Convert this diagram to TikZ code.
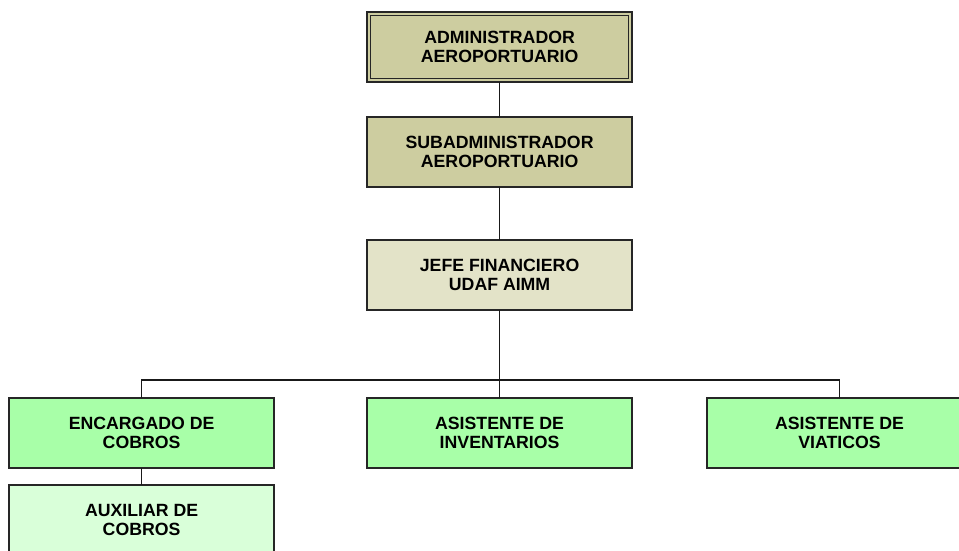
\documentclass[tikz,border=0pt]{standalone}
\usepackage{fontspec}
\setmainfont{Liberation Sans}
\usepackage{xcolor}
\usetikzlibrary{positioning}

\definecolor{tanfill}{RGB}{205,205,160}
\definecolor{paletan}{RGB}{227,227,200}
\definecolor{greenfill}{RGB}{168,255,168}
\definecolor{palegreen}{RGB}{217,255,217}

\begin{document}
\begin{tikzpicture}[
        node distance=1cm,
        post/.style={draw=black!85, line width=1.1pt, minimum width=6.625cm,
                     minimum height=1.75cm, inner sep=0pt, outer sep=0pt, align=center,
                     font=\fontsize{12.6}{13.6}\selectfont\bfseries},
        link/.style={draw=black!90, line width=1pt}
    ]
        \useasboundingbox (0,0) rectangle (23.975,-13.775);

        \node[post, fill=tanfill] (adm) at (12.49,-1.175) {ADMINISTRADOR\\AEROPORTUARIO};
        \draw[black!85, line width=0.8pt] ([shift={(0.09,-0.09)}]adm.north west)
            rectangle ([shift={(-0.09,0.09)}]adm.south east);
        \node[post, fill=tanfill] (subadm) [below=0.875cm of adm] {SUBADMINISTRADOR\\AEROPORTUARIO};
        \node[post, fill=paletan] (jefe) [below=1.325cm of subadm] {JEFE FINANCIERO\\UDAF AIMM};

        % fila inferior
        \node[post, fill=greenfill] (asinv) [below=2.2cm of jefe] {ASISTENTE DE\\INVENTARIOS};
        \node[post, fill=greenfill] (encargado) [left=2.325cm of asinv] {ENCARGADO DE\\COBROS};
        \node[post, fill=greenfill] (viaticos) [right=1.875cm of asinv] {ASISTENTE DE\\VIATICOS};
        \node[post, fill=palegreen] (auxiliar) [below=0.425cm of encargado] {AUXILIAR DE\\COBROS};

        \coordinate[below=1.75cm of jefe.south] (bus);

        \path[link]
            (adm) -- (subadm)
            (subadm) -- (jefe)
            (jefe) -- (asinv)
            (encargado.north) |- (bus) -| (viaticos.north)
            (encargado) -- (auxiliar);
    \end{tikzpicture}
\end{document}
